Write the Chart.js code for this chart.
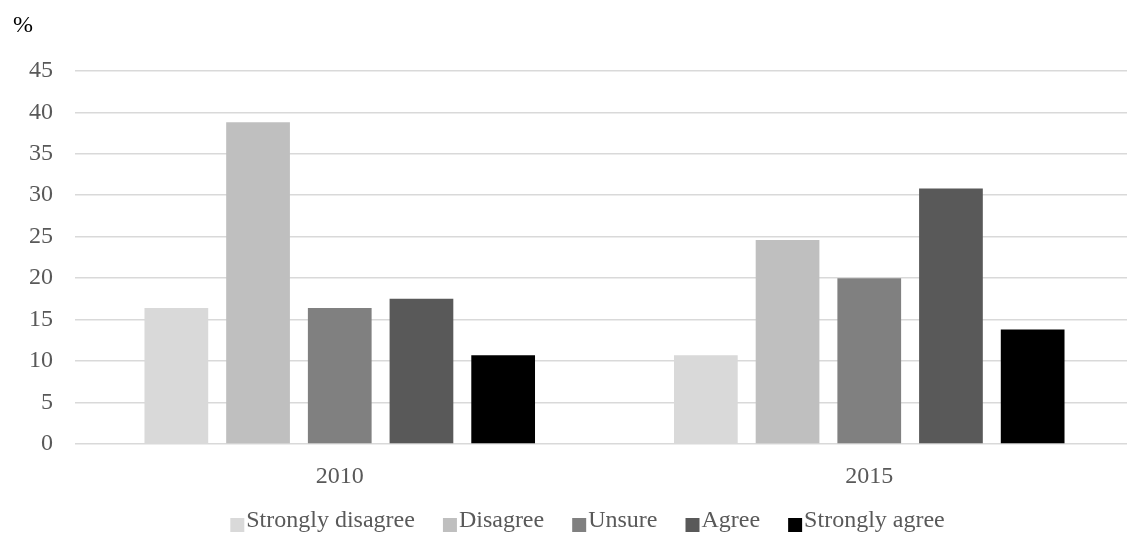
<!DOCTYPE html>
<html>
<head>
<meta charset="utf-8">
<script src="https://cdn.jsdelivr.net/npm/chart.js@4.4.1/dist/chart.umd.min.js"></script>
<style>
  html, body { margin: 0; padding: 0; background: #ffffff; overflow: hidden; }
  canvas { display: block; }
</style>
</head>
<body>
<canvas id="chart" width="1134" height="536" style="width:1134px;height:536px"></canvas>
<script>
// ---- data ----
const categories = ['2010', '2015'];
const seriesNames = ['Strongly disagree', 'Disagree', 'Unsure', 'Agree', 'Strongly agree'];
const stronglyDisagree = [16.4, 10.7];
const disagree = [38.8, 24.6];
const unsure = [16.4, 20.0];
const agree = [17.5, 30.8];
const stronglyAgree = [10.7, 13.8];
const seriesColors = ['#d9d9d9', '#bfbfbf', '#808080', '#595959', '#000000'];
const yAxisTitle = '%';

const seriesValues = [stronglyDisagree, disagree, unsure, agree, stronglyAgree];
const fontFamily = "'Liberation Serif', 'Times New Roman', serif";

// legend swatch: 14px square placed at the right side of a transparent image
function legendSwatch(color) {
  const c = document.createElement('canvas');
  c.width = 56; c.height = 24;
  const g = c.getContext('2d');
  g.fillStyle = color;
  g.fillRect(40, 9, 14, 14);
  return c;
}

const datasets = seriesNames.map((name, i) => ({
  label: name,
  data: seriesValues[i],
  backgroundColor: seriesColors[i],
  borderWidth: 0,
  categoryPercentage: 0.7715,
  barPercentage: 0.78
}));

new Chart(document.getElementById('chart'), {
  type: 'bar',
  data: { labels: categories, datasets },
  options: {
    responsive: false,
    animation: false,
    devicePixelRatio: 1,
    layout: { padding: { left: 13, right: 0, top: 0, bottom: -7 } },
    plugins: {
      title: {
        display: true,
        text: yAxisTitle,
        align: 'start',
        color: '#000000',
        font: { family: fontFamily, size: 24, weight: 'normal' },
        padding: { top: 11, bottom: 31 }
      },
      legend: {
        position: 'bottom',
        labels: {
          usePointStyle: true,
          pointStyleWidth: 32,
          color: '#595959',
          font: { family: fontFamily, size: 24 },
          padding: 0,
          generateLabels(chart) {
            return chart.data.datasets.map((ds, i) => ({
              text: ds.label,
              fillStyle: ds.backgroundColor,
              strokeStyle: ds.backgroundColor,
              lineWidth: 0,
              pointStyle: legendSwatch(ds.backgroundColor),
              fontColor: '#595959',
              hidden: !chart.isDatasetVisible(i),
              datasetIndex: i
            }));
          }
        }
      },
      tooltip: { enabled: false }
    },
    scales: {
      x: {
        grid: { display: false, drawTicks: false },
        border: { display: false },
        ticks: {
          color: '#595959',
          font: { family: fontFamily, size: 24, lineHeight: 0.8 },
          padding: 23
        },
        afterFit(scale) { scale.height = 65; }
      },
      y: {
        min: 0,
        max: 45,
        ticks: {
          stepSize: 5,
          color: '#595959',
          font: { family: fontFamily, size: 24 },
          padding: 22
        },
        grid: { color: '#d9d9d9', lineWidth: 1.5, drawTicks: false },
        border: { display: false },
        afterFit(scale) { scale.width = 62; }
      }
    }
  }
});
</script>
</body>
</html>
